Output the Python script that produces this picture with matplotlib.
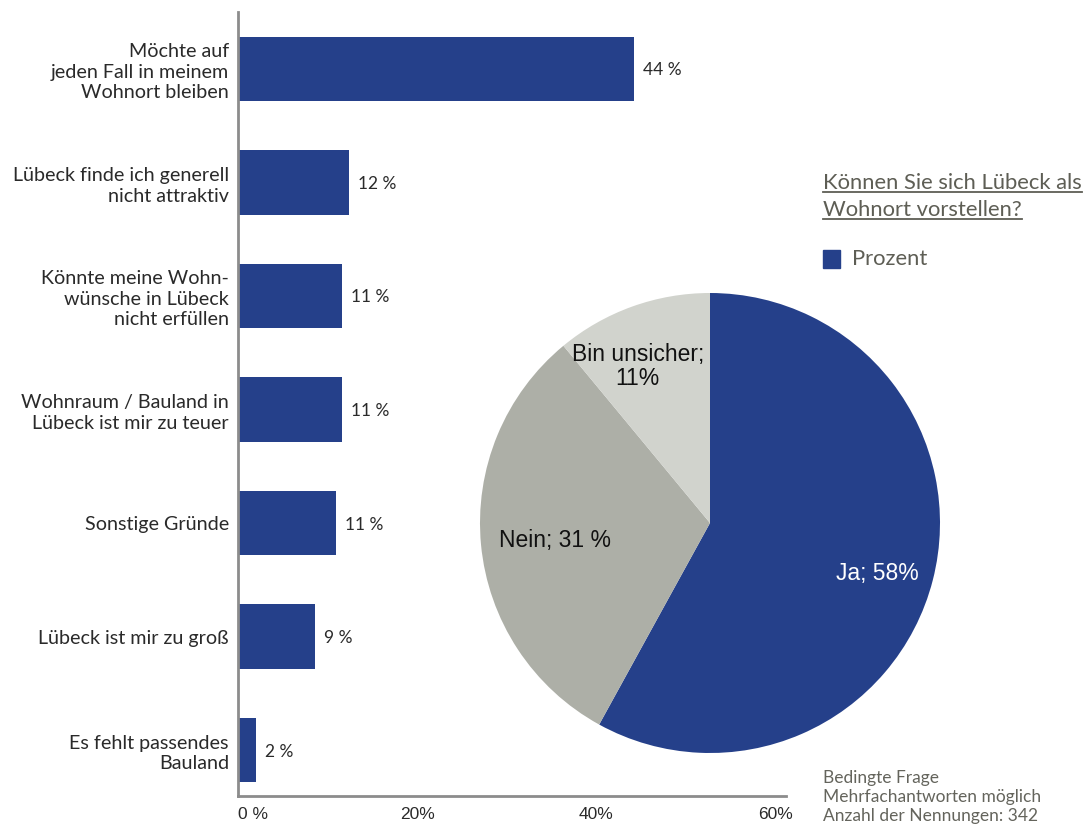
import numpy as np
import matplotlib.pyplot as plt
from matplotlib.lines import Line2D
from matplotlib.patches import Rectangle

BAR_COLOR = "#25408A"
AXIS_GRAY = "#8C8C8C"
TEXT_DARK = "#2A2A2A"
NOTE_GRAY = "#64645C"

categories = [
    "Möchte auf\njeden Fall in meinem\nWohnort bleiben",
    "Lübeck finde ich generell\nnicht attraktiv",
    "Könnte meine Wohn-\nwünsche in Lübeck\nnicht erfüllen",
    "Wohnraum / Bauland in\nLübeck ist mir zu teuer",
    "Sonstige Gründe",
    "Lübeck ist mir zu groß",
    "Es fehlt passendes\nBauland",
]
values = [44.2, 12.4, 11.6, 11.6, 10.9, 8.6, 2.0]
value_labels = ["44 %", "12 %", "11 %", "11 %", "11 %", "9 %", "2 %"]
x_ticks = [0, 20, 40, 60]
x_tick_labels = ["0 %", "20%", "40%", "60%"]

pie_labels = ["Ja; 58%", "Nein; 31 %", "Bin unsicher;\n11%"]
pie_values = [58, 31, 11]
pie_colors = ["#25408A", "#ADAFA7", "#D1D3CD"]
pie_text_colors = ["white", "#111111", "#111111"]

W, H = 1090, 825
fig = plt.figure(figsize=(W / 100, H / 100), dpi=100)
plt.rcParams["font.family"] = ["Lato", "DejaVu Sans"]

# bar chart
ax = fig.add_axes([238 / W, 1 - 796 / H, (786 - 238) / W, (796 - 12) / H])
ypos = list(range(len(categories)))
ax.barh(ypos, values, height=0.57, color=BAR_COLOR)
for y, v, lab in zip(ypos, values, value_labels):
    ax.text(v + 1.0, y, lab, va="center_baseline", ha="left", fontsize=12.5,
            color=TEXT_DARK)
ax.set_ylim(6.405, -0.502)
ax.set_xlim(0, 61.2)
ax.set_yticks(ypos)
ax.set_yticklabels(categories, fontsize=14.2, color=TEXT_DARK, linespacing=1.26)
ax.set_xticks(x_ticks)
ax.set_xticklabels(x_tick_labels, fontsize=12.5, color=TEXT_DARK,
                   family=["Liberation Sans"])
ax.get_xticklabels()[0].set_ha("left")
ax.tick_params(axis="both", length=0)
ax.tick_params(axis="y", pad=6.5)
ax.tick_params(axis="x", pad=8)
for side in ("top", "right"):
    ax.spines[side].set_visible(False)
for side in ("left", "bottom"):
    ax.spines[side].set_color(AXIS_GRAY)
    ax.spines[side].set_linewidth(2)

# pie chart
pax = fig.add_axes([480 / W, 1 - 753 / H, 460 / W, 460 / H])
wedges, texts = pax.pie(pie_values, labels=pie_labels, colors=pie_colors,
                        startangle=90, counterclock=False,
                        textprops=dict(family=["Liberation Sans"], fontsize=16.5,
                                       linespacing=1.05))
label_radius = [0.76, 0.68, 0.75]
label_turn = [-2.5, 1.0, 5.0]
for t, w, c, r, d in zip(texts, wedges, pie_text_colors, label_radius, label_turn):
    ang = np.deg2rad((w.theta1 + w.theta2) / 2 + d)
    t.set_position((r * np.cos(ang), r * np.sin(ang)))
    t.set_ha("center")
    t.set_va("center")
    t.set_color(c)
    t.set_multialignment("center")
pax.set_xlim(-1, 1)
pax.set_ylim(-1, 1)
pax.set_aspect("equal")

# title with underline
title_color = "#5E5E55"
t1 = fig.text(823 / W, 1 - 183 / H, "Können Sie sich Lübeck als", fontsize=15.8,
              color=title_color, va="center", ha="left")
t2 = fig.text(823 / W, 1 - 210 / H, "Wohnort vorstellen?", fontsize=15.8,
              color=title_color, va="center", ha="left")
fig.canvas.draw()
renderer = fig.canvas.get_renderer()
for t in (t1, t2):
    bb = t.get_window_extent(renderer)
    yline = (bb.y0 + 1) / H
    fig.add_artist(Line2D([bb.x0 / W, bb.x1 / W], [yline, yline],
                          color=title_color, lw=1.3, transform=fig.transFigure))

# legend
fig.add_artist(Rectangle((823 / W, 1 - 268 / H), 17 / W, 18 / H,
                         color=BAR_COLOR, transform=fig.transFigure))
fig.text(852 / W, 1 - 259 / H, "Prozent", fontsize=15.8, color=title_color,
         va="center", ha="left")

# notes
fig.text(823 / W, 1 - 797 / H,
         "Bedingte Frage\nMehrfachantworten möglich\nAnzahl der Nennungen: 342",
         fontsize=12.5, color=NOTE_GRAY, va="center", ha="left", linespacing=1.22)

fig.savefig("out.png", dpi=100, facecolor="white")
